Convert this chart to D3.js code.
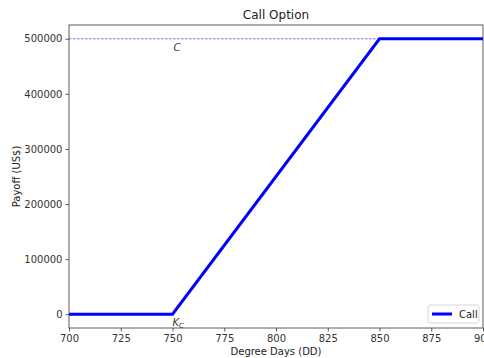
<!DOCTYPE html>
<html>
<head>
<meta charset="utf-8">
<script src="https://cdn.jsdelivr.net/npm/d3@7"></script>
<style>
  html, body { margin: 0; padding: 0; background: #fff; }
  svg { display: block; font-family: "DejaVu Sans", sans-serif; }
</style>
</head>
<body>
<svg id="chart" width="484" height="358"></svg>
<script>
// Call option payoff: zero below the strike, linear ramp, capped at C
const degreeDays = [700, 750, 850, 900];
const payoff = [0, 0, 500000, 500000];
const xTicks = [700, 725, 750, 775, 800, 825, 850, 875, 900];
const yTicks = [0, 100000, 200000, 300000, 400000, 500000];
const capValue = 500000;
const strikeDD = 750;

const W = 484, H = 358;
const margin = { left: 69, right: 1, top: 25, bottom: 30 };
const svg = d3.select("#chart");

const x = d3.scaleLinear().domain([700, 900]).range([margin.left, W - margin.right]);
const y = d3.scaleLinear().domain([-25000, 525000]).range([H - margin.bottom, margin.top]);

// Axes
const xAxis = d3.axisBottom(x).tickValues(xTicks).tickSize(3.5).tickPadding(3).tickFormat(d3.format("d"));
const yAxis = d3.axisLeft(y).tickValues(yTicks).tickSize(3.5).tickPadding(3).tickFormat(d3.format("d"));

const gx = svg.append("g").attr("transform", `translate(0,${H - margin.bottom})`).call(xAxis);
const gy = svg.append("g").attr("transform", `translate(${margin.left},0)`).call(yAxis);
[gx, gy].forEach(g => {
  g.select(".domain").remove();
  g.selectAll("line").attr("stroke", "#333").attr("stroke-width", 0.8);
  g.selectAll("text").attr("fill", "#333").style("font-size", "10px").style("font-family", "DejaVu Sans, sans-serif");
});

// Clip for plot marks
svg.append("clipPath").attr("id", "plotclip").append("rect")
  .attr("x", margin.left).attr("y", margin.top)
  .attr("width", W - margin.right - margin.left).attr("height", H - margin.bottom - margin.top);

const plot = svg.append("g").attr("clip-path", "url(#plotclip)");

// Cap reference line
plot.append("line")
  .attr("x1", x(700)).attr("x2", x(900))
  .attr("y1", y(capValue)).attr("y2", y(capValue))
  .attr("stroke", "#0000ff").attr("stroke-opacity", 0.7)
  .attr("stroke-width", 0.8).attr("stroke-dasharray", "2.5,1.5");

// Payoff line
const line = d3.line().x((d, i) => x(degreeDays[i])).y(d => y(d));
plot.append("path")
  .datum(payoff)
  .attr("d", line)
  .attr("fill", "none")
  .attr("stroke", "#0000ff")
  .attr("stroke-width", 3)
  .attr("stroke-linejoin", "miter");

// Annotations
svg.append("text")
  .attr("x", x(strikeDD) + 1).attr("y", y(capValue) + 12)
  .style("font-size", "10px").style("font-style", "italic").attr("fill", "#333")
  .text("C");
const kc = svg.append("text")
  .attr("x", x(strikeDD)).attr("y", y(0) + 12)
  .style("font-size", "10px").style("font-style", "italic").attr("fill", "#333");
kc.append("tspan").text("K");
kc.append("tspan").attr("dy", 2).style("font-size", "7px").text("C");

// Frame
svg.append("rect")
  .attr("x", margin.left).attr("y", margin.top)
  .attr("width", W - margin.right - margin.left).attr("height", H - margin.bottom - margin.top)
  .attr("fill", "none").attr("stroke", "#333").attr("stroke-width", 0.8);

// Title and axis labels
svg.append("text")
  .attr("x", (margin.left + W - margin.right) / 2).attr("y", 19)
  .attr("text-anchor", "middle").style("font-size", "12px").attr("fill", "#222")
  .text("Call Option");
svg.append("text")
  .attr("x", (margin.left + W - margin.right) / 2).attr("y", 355)
  .attr("text-anchor", "middle").style("font-size", "10px").attr("fill", "#222")
  .text("Degree Days (DD)");
svg.append("text")
  .attr("transform", `translate(20,${(margin.top + H - margin.bottom) / 2}) rotate(-90)`)
  .attr("text-anchor", "middle").style("font-size", "10px").attr("fill", "#222")
  .text("Payoff (US$)");

// Legend
const lg = svg.append("g").attr("transform", "translate(428,305)");
lg.append("rect").attr("width", 51).attr("height", 18).attr("rx", 2)
  .attr("fill", "#fff").attr("fill-opacity", 0.8).attr("stroke", "#ccc").attr("stroke-width", 0.8);
lg.append("line").attr("x1", 4).attr("x2", 24).attr("y1", 9).attr("y2", 9)
  .attr("stroke", "#0000ff").attr("stroke-width", 3);
lg.append("text").attr("x", 31).attr("y", 13).style("font-size", "10px").attr("fill", "#222").text("Call");
</script>
</body>
</html>
